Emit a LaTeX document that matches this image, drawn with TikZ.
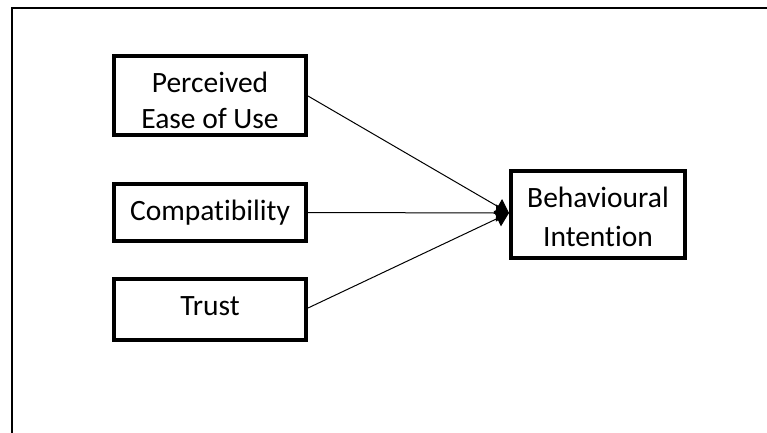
\documentclass[tikz,border=0pt]{standalone}
\usepackage{fontspec}
\setmainfont[Ligatures=NoCommon]{Carlito}
\usetikzlibrary{arrows.meta}

\tikzset{
  box/.style={draw, line width=4pt, inner sep=0pt},
  txt/.style={inner sep=0pt, font=\fontsize{29.5}{36}\selectfont},
  link/.style={line width=1pt, -{Triangle[length=13pt, width=17pt]}},
  frame/.style={line width=2pt}
}

\begin{document}
\begin{tikzpicture}[x=1pt, y=-1pt]
  \clip (0,0) rectangle (767,432);

  % outer frame (only its left and top edges fall inside the page)
  \coordinate (fa) at (12,450);
  \coordinate (fb) at (12,8);
  \coordinate (fc) at (790,8);
  \draw[frame] (fa) -- (fb) -- (fc);

  % construct boxes
  \node[box, minimum width=192pt, minimum height=79pt] (peou) at (210,95.5) {};
  \node[box, minimum width=192pt, minimum height=57pt] (comp) at (210,212.5) {};
  \node[box, minimum width=192pt, minimum height=61pt] (trust) at (210,309.5) {};
  \node[box, minimum width=174pt, minimum height=87pt] (bi) at (598,214.5) {};

  % box texts
  \node[txt, anchor=base] (peou1) at (210,92) {Perceived};
  \node[txt, anchor=base] (peou2) at (210,128) {Ease of Use};
  \node[txt, anchor=base] (comp1) at (210,220) {Compatibility};
  \node[txt, anchor=base] (trust1) at (210,315) {Trust};
  \node[txt, anchor=base] (bi1) at (598,207) {Behavioural};
  \node[txt, anchor=base] (bi2) at (598,246) {Intention};

  % paths into behavioural intention
  \coordinate (tip) at ([yshift=1.5pt]bi.west);
  \draw[link] (peou.east |- 0,96) -- (tip);
  \draw[link] (comp.east) -- (tip);
  \draw[link] (trust.east |- 0,308) -- (tip);
\end{tikzpicture}
\end{document}
